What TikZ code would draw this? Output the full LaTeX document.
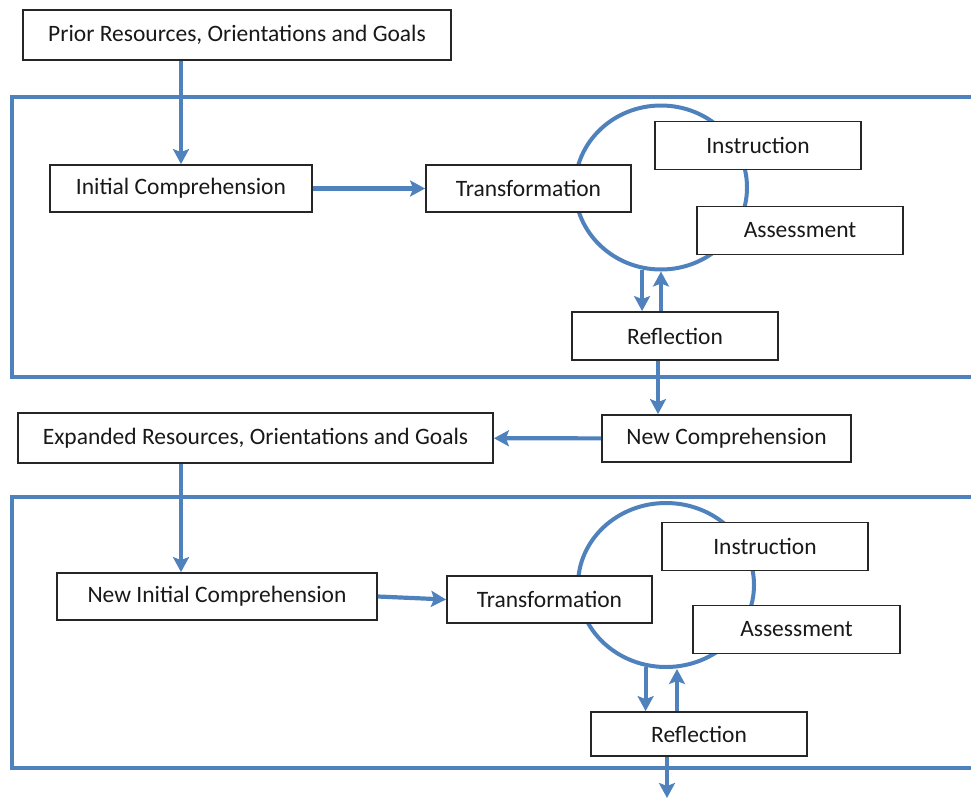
\documentclass[tikz,border=0pt]{standalone}
\usepackage{fontspec}
\setmainfont{Carlito}
\usetikzlibrary{arrows.meta,shapes.geometric}
\definecolor{cyclblue}{HTML}{4F81BD}
\begin{document}
\begin{tikzpicture}[x=1pt,y=-1pt]
\tikzset{
  every node/.style={font=\fontsize{23.5}{27}\selectfont,text=black!90},
  stage/.style={shape=rectangle,draw=black!85,line width=1.8pt,fill=white,minimum height=48pt,inner sep=0pt},
  loop/.style={shape=ellipse,draw=cyclblue,line width=4pt,minimum width=172pt,minimum height=164pt,inner sep=0pt},
  frame/.style={draw=cyclblue,line width=3.6pt},
  flow/.style={draw=cyclblue,line width=4.2pt,-{Stealth[length=15pt,width=16pt,inset=3pt]}}
}

\useasboundingbox (0,0) rectangle (971,798);

% outer frames
\draw[frame] (975,97) -- (12,97) -- (12,377) -- (975,377);
\draw[frame] (975,497) -- (12,497) -- (12,768) -- (975,768);

% first cycle
\node[loop] (L1) at (661,187.5) {};
\node[stage,minimum width=428pt,minimum height=50pt] (P) at (237,35) {Prior Resources, Orientations and Goals};
\node[stage,minimum width=262pt,minimum height=47pt] (IC) at (181,188.5) {Initial Comprehension};
\node[stage,minimum width=205pt,minimum height=47pt] (T1) at (528.5,188.5) {Transformation\hspace{12pt}};
\node[stage,minimum width=206pt] (I1) at (758,145.5) {Instruction};
\node[stage,minimum width=206pt] (A1) at (800,230.5) {Assessment};
\node[stage,minimum width=206pt] (R1) at (675,336) {Reflection};

% between cycles
\node[stage,minimum width=249pt,minimum height=47pt] (NC) at (726.5,438.5) {New Comprehension};
\node[stage,minimum width=475pt,minimum height=50pt] (E) at (255.5,438) {Expanded Resources, Orientations and Goals};

% second cycle
\node[loop,minimum width=176pt] (L2) at (666,585) {};
\node[stage,minimum width=320pt,minimum height=47pt] (NIC) at (217,596.5) {New Initial Comprehension};
\node[stage,minimum width=205pt,minimum height=47pt] (T2) at (549.5,599.5) {Transformation\hspace{12pt}};
\node[stage,minimum width=206pt] (I2) at (765,546.5) {Instruction};
\node[stage,minimum width=207pt] (A2) at (796.5,629.5) {Assessment};
\node[stage,minimum width=216pt,minimum height=44pt] (R2) at (699,734) {Reflection};
\coordinate (out) at (667,798);

\draw[flow] (P.south -| IC) -- (IC.north);
\draw[flow] (IC) -- (T1);
\draw[flow] (L1.257) -- (L1.257 |- R1.north);
\draw[flow] (R1.north -| L1.south) -- (L1.south);
\draw[flow] (R1.south -| 658,0) -- (NC.north -| 658,0);
\draw[flow] (NC) -- (E);
\draw[flow] (E.south -| 181,0) -- (NIC.north -| 181,0);
\draw[flow] (NIC.east) -- (T2.west);
\draw[flow] (L2.256) -- (L2.256 |- R2.north);
\draw[flow] (R2.north -| 677,0) -- (L2.south -| 677,0);
\draw[flow] (R2.south -| out) -- (out);

\end{tikzpicture}
\end{document}
